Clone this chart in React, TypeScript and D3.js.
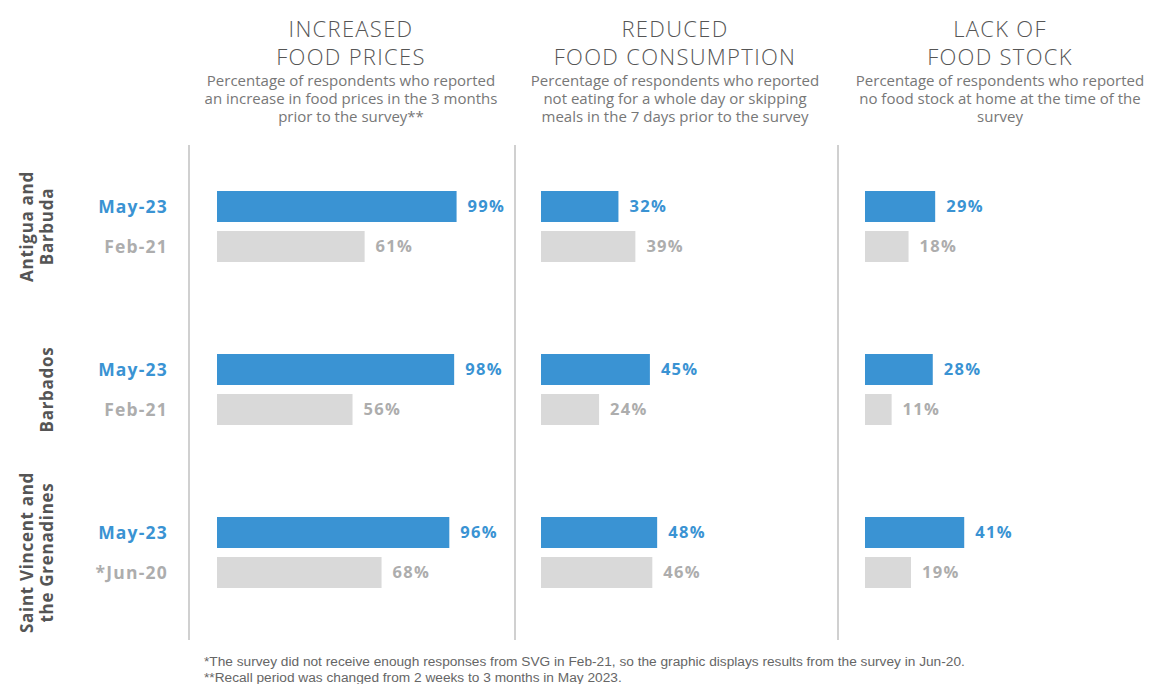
import React from "react";
import * as d3 from "d3";

const countries = ["Antigua and Barbuda", "Barbados", "Saint Vincent and the Grenadines"];
const countryLines = [["Antigua and", "Barbuda"], ["Barbados"], ["Saint Vincent and", "the Grenadines"]];
const recentLabels = ["May-23", "May-23", "May-23"];
const pastLabels = ["Feb-21", "Feb-21", "*Jun-20"];

const panelTitles = [["INCREASED", "FOOD PRICES"], ["REDUCED", "FOOD CONSUMPTION"], ["LACK OF", "FOOD STOCK"]];
const panelSubtitles = [
  ["Percentage of respondents who reported", "an increase in food prices in the 3 months", "prior to the survey**"],
  ["Percentage of respondents who reported", "not eating for a whole day or skipping", "meals in the 7 days prior to the survey"],
  ["Percentage of respondents who reported", "no food stock at home at the time of the", "survey"],
];

const foodPricesRecent = [99, 98, 96];
const foodPricesPast = [61, 56, 68];
const consumptionRecent = [32, 45, 48];
const consumptionPast = [39, 24, 46];
const stockRecent = [29, 28, 41];
const stockPast = [18, 11, 19];

const recentSeries = [foodPricesRecent, consumptionRecent, stockRecent];
const pastSeries = [foodPricesPast, consumptionPast, stockPast];

const footnotes = [
  "*The survey did not receive enough responses from SVG in Feb-21, so the graphic displays results from the survey in Jun-20.",
  "**Recall period was changed from 2 weeks to 3 months in May 2023.",
];

const BLUE = "#3a93d3";
const GRAY_BAR = "#d9d9d9";
const GRAY_TEXT = "#adadad";
const DARK = "#555555";
const FONT = "'Open Sans', Lato, sans-serif";

export default function App() {
  const W = 1151, H = 684;
  const panelStarts = [217, 541, 865];
  const panelCenters = [351, 675, 1000];
  const separators = [189, 515, 838];
  const barH = 31;
  const rowStep = 40;
  const yGroup = d3.scalePoint<string>().domain(countries).range([191, 517]);

  return (
    <svg width={W} height={H} style={{ position: "absolute", left: 0, top: 0, background: "#fff" }}>
      {separators.map((x, i) => (
        <line key={"s" + i} x1={x} x2={x} y1={145} y2={640} stroke="#d0d0d0" strokeWidth={2} />
      ))}
      {panelTitles.map((lines, p) => (
        <g key={"t" + p}>
          {lines.map((l, j) => (
            <text key={j} x={panelCenters[p]} y={37 + j * 28} textAnchor="middle" fontFamily={FONT} fontWeight={300} fontSize={22} letterSpacing={1.3} fill={DARK}>
              {l}
            </text>
          ))}
          {panelSubtitles[p].map((l, j) => (
            <text key={"st" + j} x={panelCenters[p]} y={86 + j * 18} textAnchor="middle" fontFamily={FONT} fontSize={15} fill="#777">
              {l}
            </text>
          ))}
        </g>
      ))}
      {countries.map((c, i) => {
        const y0 = yGroup(c)!;
        const cy = y0 + (barH + rowStep) / 2;
        const lines = countryLines[i];
        const baseXs = lines.length === 2 ? [33, 53] : [53];
        return (
          <g key={c}>
            {lines.map((l, j) => (
              <text key={j} transform={`translate(${baseXs[j]},${cy}) rotate(-90)`} textAnchor="middle" fontFamily={FONT} fontWeight={700} fontSize={17} letterSpacing={0.7} fill={DARK}>
                {l}
              </text>
            ))}
            <text x={168} y={y0 + barH / 2} dy="0.35em" textAnchor="end" fontFamily={FONT} fontWeight={700} fontSize={17.5} letterSpacing={1.2} fill={BLUE}>
              {recentLabels[i]}
            </text>
            <text x={168} y={y0 + rowStep + barH / 2} dy="0.35em" textAnchor="end" fontFamily={FONT} fontWeight={700} fontSize={17.5} letterSpacing={1.2} fill={GRAY_TEXT}>
              {pastLabels[i]}
            </text>
          </g>
        );
      })}
      {panelStarts.map((start, p) => {
        const x = d3.scaleLinear().domain([0, 100]).range([start, start + 242]);
        return (
          <g key={"p" + p}>
            {countries.map((c, i) => {
              const y0 = yGroup(c)!;
              const r = recentSeries[p][i];
              const q = pastSeries[p][i];
              return (
                <g key={c}>
                  <rect x={x(0)} y={y0} width={x(r) - x(0)} height={barH} fill={BLUE} />
                  <text x={x(r) + 11} y={y0 + barH / 2} dy="0.35em" fontFamily={FONT} fontWeight={700} fontSize={16.5} letterSpacing={1.3} fill={BLUE}>
                    {r}%
                  </text>
                  <rect x={x(0)} y={y0 + rowStep} width={x(q) - x(0)} height={barH} fill={GRAY_BAR} />
                  <text x={x(q) + 11} y={y0 + rowStep + barH / 2} dy="0.35em" fontFamily={FONT} fontWeight={700} fontSize={16.5} letterSpacing={1.3} fill={GRAY_TEXT}>
                    {q}%
                  </text>
                </g>
              );
            })}
          </g>
        );
      })}
      {footnotes.map((f, i) => (
        <text key={"f" + i} x={204} y={666 + i * 16} fontFamily="'Liberation Sans Narrow', 'Arial Narrow', sans-serif" fontSize={13.7} fill="#666">
          {f}
        </text>
      ))}
    </svg>
  );
}
